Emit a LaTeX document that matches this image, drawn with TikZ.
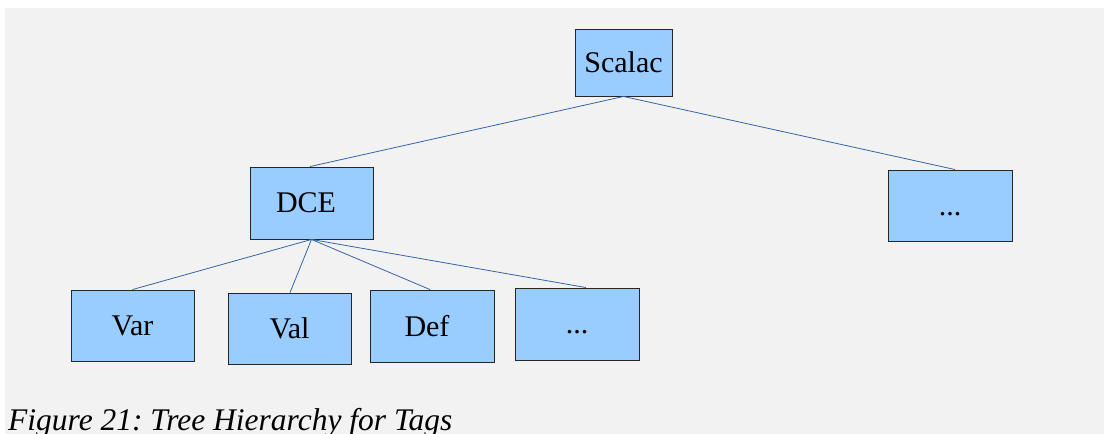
\documentclass[tikz,border=0pt]{standalone}
\usepackage{fontspec}
\setmainfont{Liberation Serif}
\frenchspacing
\definecolor{bg}{HTML}{F2F2F2}
\definecolor{boxfill}{HTML}{99CCFF}
\definecolor{edgeblue}{HTML}{3465A4}
\begin{document}
\begin{tikzpicture}[x=1pt,y=-1pt,
  tagbox/.style={draw=black!85, line width=0.9pt, fill=boxfill, inner sep=0pt, font=\fontsize{30}{36}\selectfont},
  edge/.style={draw=edgeblue, line width=0.8pt}]
\path[use as bounding box] (0,0) rectangle (1104,434);
\clip (0,0) rectangle (1104,434);
\fill[bg] (5,8) rectangle (1104,434);
% boxes
\node[tagbox, minimum width=97pt, minimum height=67pt] (scalac) at (623.5,62.5) {Scalac};
\node[tagbox, minimum width=123pt, minimum height=72pt] (dce) at (311.5,203) {\hbox{DCE\kern11pt}};
\node[tagbox, minimum width=124pt, minimum height=71pt] (more1) at (950,205.5) {\vphantom{D}...};
\node[tagbox, minimum width=123pt, minimum height=71pt] (var) at (132.5,325.5) {Var};
\node[tagbox, minimum width=123pt, minimum height=71pt] (val) at (289.5,328.5) {Val};
\node[tagbox, minimum width=124pt, minimum height=72pt] (def) at (432,326) {\hbox{Def\kern10pt}};
\node[tagbox, minimum width=124pt, minimum height=72pt] (more2) at (577,324) {\vphantom{D}...};
% connectors
\coordinate (sb) at (scalac.south);
\coordinate (db) at (dce.south);
\draw[edge] (sb) -- ([xshift=-1.5pt]dce.north);
\draw[edge] (sb) -- ([xshift=5pt]more1.north);
\draw[edge] (db) -- (var.north);
\draw[edge] (db) -- ([xshift=0.5pt]val.north);
\draw[edge] (db) -- ([xshift=-2pt]def.north);
\draw[edge] (db) -- ([xshift=9pt]more2.north);
% caption
\node[anchor=base west, inner sep=0pt, font=\fontsize{31.5}{36}\selectfont\itshape] (cap) at (8,430) {Figure 21: Tree Hierarchy for Tags};
\end{tikzpicture}
\end{document}
